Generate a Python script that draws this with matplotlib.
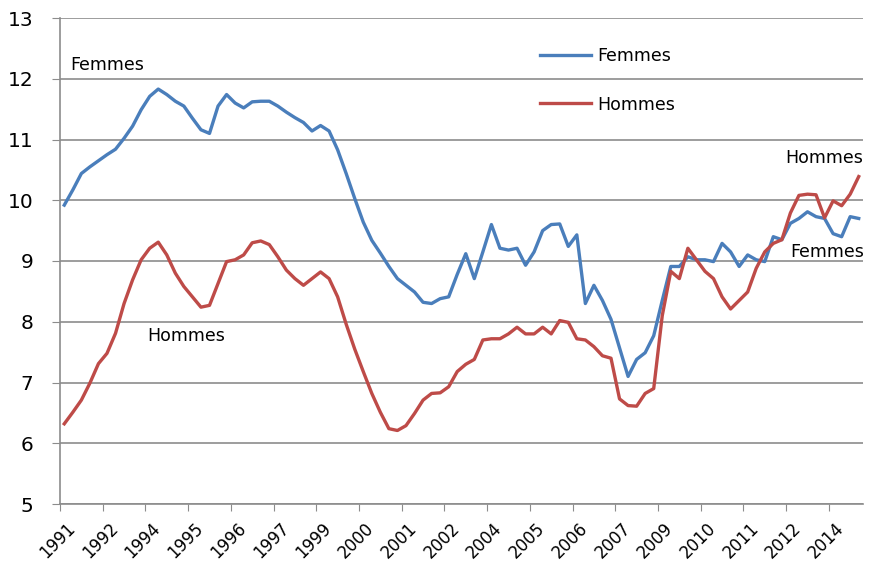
import numpy as np
import matplotlib
matplotlib.use("Agg")
import matplotlib.pyplot as plt
import matplotlib.transforms as mtrans

# quarterly rates
femmes = [9.92, 10.17, 10.44, 10.55, 10.65, 10.75, 10.84, 11.02, 11.22, 11.49,
          11.71, 11.83, 11.74, 11.63, 11.55, 11.35, 11.16, 11.10, 11.55, 11.74,
          11.60, 11.52, 11.62, 11.63, 11.63, 11.55, 11.45, 11.36, 11.28, 11.14,
          11.23, 11.14, 10.83, 10.44, 10.03, 9.64, 9.34, 9.13, 8.91, 8.71,
          8.60, 8.49, 8.32, 8.30, 8.38, 8.41, 8.78, 9.12, 8.71, 9.15,
          9.60, 9.21, 9.18, 9.21, 8.93, 9.15, 9.50, 9.60, 9.61, 9.24,
          9.43, 8.30, 8.60, 8.35, 8.04, 7.57, 7.10, 7.38, 7.49, 7.77,
          8.35, 8.91, 8.91, 9.07, 9.02, 9.02, 8.99, 9.29, 9.15, 8.91,
          9.10, 9.02, 8.99, 9.40, 9.35, 9.62, 9.70, 9.81, 9.73, 9.70,
          9.45, 9.40, 9.73, 9.70]
hommes = [6.32, 6.51, 6.71, 6.99, 7.31, 7.48, 7.81, 8.30, 8.69, 9.02,
          9.21, 9.31, 9.10, 8.80, 8.58, 8.41, 8.24, 8.27, 8.63, 8.99,
          9.02, 9.10, 9.30, 9.33, 9.27, 9.07, 8.85, 8.71, 8.60, 8.71,
          8.82, 8.71, 8.41, 7.96, 7.55, 7.18, 6.82, 6.51, 6.24, 6.21,
          6.29, 6.49, 6.71, 6.82, 6.83, 6.93, 7.18, 7.30, 7.38, 7.70,
          7.72, 7.72, 7.80, 7.91, 7.80, 7.80, 7.91, 7.80, 8.02, 7.99,
          7.72, 7.70, 7.59, 7.44, 7.40, 6.73, 6.62, 6.61, 6.82, 6.90,
          8.10, 8.83, 8.71, 9.21, 9.02, 8.83, 8.71, 8.41, 8.21, 8.35,
          8.49, 8.88, 9.15, 9.29, 9.35, 9.79, 10.08, 10.10, 10.09, 9.71,
          9.99, 9.91, 10.10, 10.39]
tick_labels = ["1991", "1992", "1994", "1995", "1996", "1997", "1999", "2000",
               "2001", "2002", "2004", "2005", "2006", "2007", "2009", "2010",
               "2011", "2012", "2014"]

BLUE = "#4A7EBB"
RED = "#BE4B48"
GRID = "#8C8C8C"

fig = plt.figure(figsize=(8.73, 5.70), dpi=100)
ax = fig.add_axes([60 / 873, 1 - 504 / 570, 803 / 873, 486 / 570])

x = np.arange(len(femmes))
ax.plot(x, femmes, color=BLUE, lw=2.4, solid_joinstyle="round", label="Femmes")
ax.plot(x, hommes, color=RED, lw=2.4, solid_joinstyle="round", label="Hommes")

ax.set_xlim(-0.5, len(femmes) - 0.5)
ax.set_ylim(5, 13)
ax.set_yticks(range(5, 14))
ax.yaxis.grid(True, color=GRID, lw=1.2)
ax.set_axisbelow(True)

ax.set_xticks([-0.5 + 5 * k for k in range(len(tick_labels))])
ax.set_xticklabels(tick_labels, rotation=45, ha="right", va="top",
                   rotation_mode="anchor", fontsize=12)
ax.tick_params(axis="x", length=5, color=GRID, pad=3)
ax.tick_params(axis="y", length=6, color=GRID, labelsize=14.5, pad=13)

# push rotated labels right/down like the excel original
shift = mtrans.ScaledTranslation(0.06, -0.04, fig.dpi_scale_trans)
for lab in ax.get_xticklabels():
    lab.set_transform(lab.get_transform() + shift)

for s in ["top", "right"]:
    ax.spines[s].set_visible(False)
for s in ["left", "bottom"]:
    ax.spines[s].set_color(GRID)
    ax.spines[s].set_linewidth(1.2)

# inline labels
ax.text(0.7, 12.23, "Femmes", fontsize=12.5, ha="left", va="center")
ax.text(9.7, 7.77, "Hommes", fontsize=12.5, ha="left", va="center")
ax.text(84.4, 10.70, "Hommes", fontsize=12.5, ha="left", va="center")
ax.text(85.0, 9.15, "Femmes", fontsize=12.5, ha="left", va="center")

ax.legend(loc="upper left", bbox_to_anchor=(0.598, 0.94), frameon=False,
          fontsize=12.5, handlelength=2.9, handletextpad=0.4,
          labelspacing=1.75, borderpad=0, borderaxespad=0)

fig.savefig("out.png", dpi=100)
